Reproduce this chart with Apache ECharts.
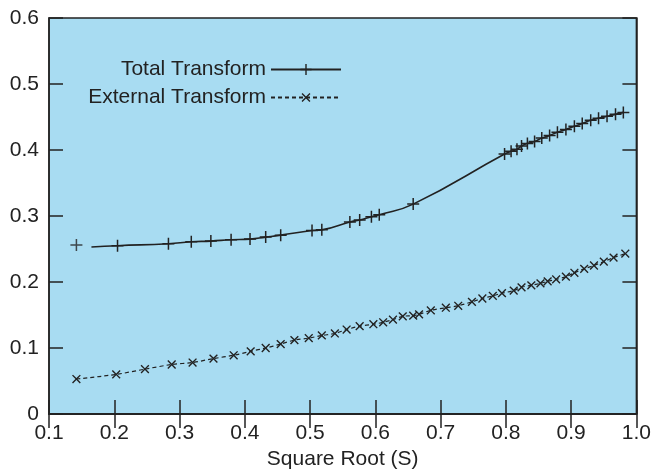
<!DOCTYPE html>
<html>
<head>
<meta charset="utf-8">
<script src="https://cdn.jsdelivr.net/npm/echarts@6/dist/echarts.min.js"></script>
<style>
  html, body { margin: 0; padding: 0; background: #ffffff; }
  #chart { width: 654px; height: 475px; }
</style>
</head>
<body>
<div id="chart"></div>
<script>
// Tick labels
var xTickLabels = ['0.1', '0.2', '0.3', '0.4', '0.5', '0.6', '0.7', '0.8', '0.9', '1.0'];
var yTickLabels = ['0', '0.1', '0.2', '0.3', '0.4', '0.5', '0.6'];

// Total Transform readings (solid line, + markers)
var totalX = [0.205, 0.283, 0.318, 0.348, 0.379, 0.408, 0.432, 0.455, 0.503, 0.518,
              0.561, 0.576, 0.594, 0.606, 0.658, 0.798, 0.808, 0.817, 0.824, 0.833,
              0.844, 0.855, 0.867, 0.879, 0.892, 0.905, 0.917, 0.930, 0.942, 0.955,
              0.968, 0.980];
var totalY = [0.255, 0.258, 0.261, 0.262, 0.264, 0.265, 0.268, 0.271, 0.278, 0.279,
              0.291, 0.294, 0.299, 0.302, 0.318, 0.394, 0.398, 0.401, 0.406, 0.410,
              0.413, 0.418, 0.422, 0.427, 0.431, 0.436, 0.440, 0.445, 0.448, 0.451,
              0.454, 0.457];
// where the fitted Total curve begins (no marker)
var totalCurveStart = [0.165, 0.253];
// first Total reading, standing apart from the curve
var totalFirst = [0.142, 0.256];

// External Transform readings (dashed line, x markers)
var externalX = [0.142, 0.203, 0.247, 0.288, 0.320, 0.352, 0.383, 0.409, 0.432, 0.455,
                 0.476, 0.498, 0.518, 0.538, 0.556, 0.576, 0.597, 0.612, 0.627, 0.642,
                 0.658, 0.667, 0.685, 0.708, 0.727, 0.748, 0.764, 0.780, 0.794, 0.812,
                 0.824, 0.839, 0.853, 0.864, 0.877, 0.892, 0.905, 0.920, 0.935, 0.950,
                 0.965, 0.983];
var externalY = [0.053, 0.060, 0.068, 0.075, 0.078, 0.084, 0.089, 0.095, 0.100, 0.106,
                 0.112, 0.115, 0.119, 0.122, 0.128, 0.133, 0.136, 0.139, 0.143, 0.148,
                 0.149, 0.151, 0.157, 0.161, 0.164, 0.170, 0.175, 0.179, 0.183, 0.187,
                 0.192, 0.195, 0.198, 0.201, 0.204, 0.208, 0.214, 0.220, 0.225, 0.231,
                 0.237, 0.243];

var INK = '#222222';
var FONT = '"Liberation Sans", Arial, sans-serif';
var FS = 21;
// filled plus shape; rotated 45 degrees it becomes the x marker
var PLUS = 'path://M5.25,0H6.75V5.25H12V6.75H6.75V12H5.25V6.75H0V5.25H5.25Z';

function pairs(xs, ys) {
  return xs.map(function (x, i) { return [x, ys[i]]; });
}

var totalData = [{ value: totalCurveStart, symbol: 'none' }].concat(pairs(totalX, totalY));
var externalData = pairs(externalX, externalY);

function xLabel(v) { return xTickLabels[Math.round((v - 0.1) / 0.1)]; }
function yLabel(v) { return yTickLabels[Math.round(v / 0.1)]; }

var tickStyle = { show: true, inside: true, length: 14, lineStyle: { color: INK, width: 1.5 } };

var chart = echarts.init(document.getElementById('chart'), null, { renderer: 'canvas' });
chart.setOption({
  animation: false,
  backgroundColor: '#ffffff',
  textStyle: { fontFamily: FONT },
  grid: {
    left: 49, right: 11, top: 18, bottom: 59,
    show: true,
    backgroundColor: '#a8dcf2',
    borderColor: INK,
    borderWidth: 1.5
  },
  legend: [
    {
      data: ['Total Transform'],
      right: 312, top: 59, padding: 0,
      align: 'right',
      itemWidth: 70, itemHeight: 14,
      textStyle: { fontSize: FS, color: INK, fontFamily: FONT }
    },
    {
      data: ['External Transform'],
      right: 312, top: 87, padding: 0,
      align: 'right',
      itemWidth: 70, itemHeight: 14,
      textStyle: { fontSize: FS, color: INK, fontFamily: FONT }
    }
  ],
  xAxis: [
    {
      type: 'value', min: 0.1, max: 1.0, interval: 0.1, position: 'bottom',
      name: 'Square Root (S)', nameLocation: 'middle', nameGap: 35,
      nameTextStyle: { fontSize: FS, color: INK, fontFamily: FONT },
      axisLine: { show: true, lineStyle: { color: INK, width: 1.5 } },
      axisTick: tickStyle,
      axisLabel: { fontSize: FS, color: INK, margin: 9, formatter: xLabel, fontFamily: FONT },
      splitLine: { show: false }
    },
    {
      type: 'value', min: 0.1, max: 1.0, interval: 0.1, position: 'top',
      axisLine: { show: true, lineStyle: { color: INK, width: 1.5 } },
      axisTick: tickStyle,
      axisLabel: { show: false },
      splitLine: { show: false }
    }
  ],
  yAxis: [
    {
      type: 'value', min: 0, max: 0.6, interval: 0.1, position: 'left',
      axisLine: { show: true, lineStyle: { color: INK, width: 1.5 } },
      axisTick: tickStyle,
      axisLabel: { fontSize: FS, color: INK, margin: 10, formatter: yLabel, fontFamily: FONT },
      splitLine: { show: false }
    },
    {
      type: 'value', min: 0, max: 0.6, interval: 0.1, position: 'right',
      axisLine: { show: true, lineStyle: { color: INK, width: 1.5 } },
      axisTick: tickStyle,
      axisLabel: { show: false },
      splitLine: { show: false }
    }
  ],
  series: [
    {
      name: 'Total Transform',
      type: 'line',
      data: totalData,
      smooth: 0.5,
      symbol: PLUS,
      symbolSize: 12,
      showSymbol: true,
      lineStyle: { color: INK, width: 1.6, type: 'solid' },
      itemStyle: { color: INK }
    },
    {
      name: 'Total Transform first reading',
      type: 'scatter',
      data: [totalFirst],
      symbol: PLUS,
      symbolSize: 12,
      itemStyle: { color: INK }
    },
    {
      name: 'External Transform',
      type: 'line',
      data: externalData,
      smooth: 0.3,
      symbol: PLUS,
      symbolSize: 11,
      symbolRotate: 45,
      lineStyle: { color: INK, width: 1.2, type: [4, 3] },
      itemStyle: { color: INK }
    }
  ]
});
</script>
</body>
</html>
